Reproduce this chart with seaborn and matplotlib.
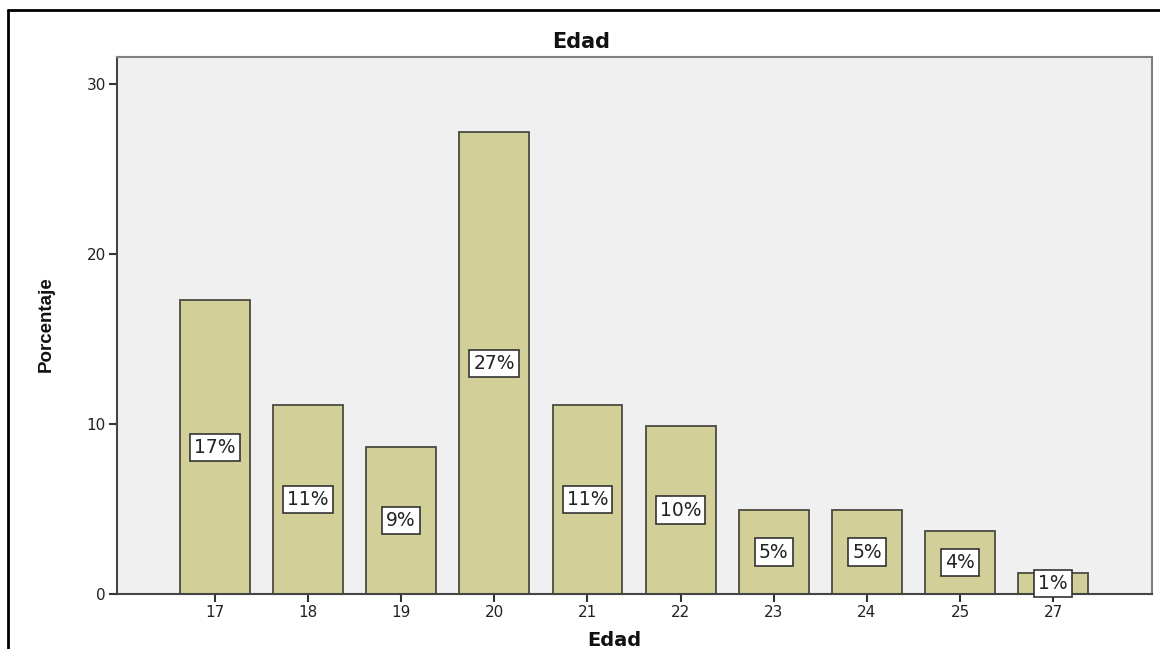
import matplotlib
matplotlib.use("Agg")
import matplotlib.pyplot as plt
import seaborn as sns
import pandas as pd
from matplotlib.lines import Line2D

# Data
edades = ["17", "18", "19", "20", "21", "22", "23", "24", "25", "27"]
porcentaje = [17.28, 11.11, 8.64, 27.16, 11.11, 9.88, 4.94, 4.94, 3.70, 1.23]
etiquetas = ["17%", "11%", "9%", "27%", "11%", "10%", "5%", "5%", "4%", "1%"]
yticks = [0, 10, 20, 30]

sns.set_theme(style="white")
plt.rcParams["font.family"] = ["DejaVu Sans"]

df = pd.DataFrame({"Edad": edades, "Porcentaje": porcentaje})

fig = plt.figure(figsize=(11.6, 6.49), dpi=100)
fig.patch.set_facecolor("white")
ax = fig.add_axes([117/1160, 55/649, 1035/1160, 537/649])
ax.set_facecolor("#F0F0F0")

sns.barplot(data=df, x="Edad", y="Porcentaje", order=edades, color="#D3CF98",
            saturation=1, edgecolor="#4a4a40", linewidth=1.3, width=0.75, ax=ax)

for i, (v, lab) in enumerate(zip(porcentaje, etiquetas)):
    ax.text(i, v / 2, lab, ha="center", va="center", fontsize=13.5, color="#222222",
            bbox=dict(boxstyle="square,pad=0.22", facecolor="white",
                      edgecolor="#333333", linewidth=1.2))

ax.set_xlim(-1.05, 10.06)
ax.set_ylim(0, 31.6)
ax.set_yticks(yticks)
ax.set_yticklabels([str(t) for t in yticks])
ax.tick_params(axis="both", which="both", direction="out", length=6, width=1.5,
               color="#333333", labelsize=11, labelcolor="#222222", pad=2,
               left=True, bottom=True)

for side in ["left", "bottom"]:
    ax.spines[side].set_color("#444444")
    ax.spines[side].set_linewidth(1.5)
for side in ["top", "right"]:
    ax.spines[side].set_color("#808080")
    ax.spines[side].set_linewidth(1.5)

ax.set_xlabel("")
ax.set_ylabel("")
fig.text(581/1160, 1 - 42/649, "Edad", ha="center", va="center", fontsize=15,
         fontweight="bold", color="#111111")
fig.text(614/1160, 1 - 641/649, "Edad", ha="center", va="center", fontsize=14,
         fontweight="bold", color="#111111")
fig.text(46/1160, 1 - 324/649, "Porcentaje", ha="center", va="center", rotation=90,
         fontsize=13.5, fontweight="bold",
         family=["Liberation Sans Narrow", "Liberation Sans", "DejaVu Sans"], color="#111111")

# outer frame (left and top edges)
fig.add_artist(Line2D([8/1160, 8/1160], [0, 1 - 10/649], transform=fig.transFigure,
                      color="black", linewidth=2))
fig.add_artist(Line2D([8/1160, 1], [1 - 10/649, 1 - 10/649], transform=fig.transFigure,
                      color="black", linewidth=2))

fig.savefig("out.png", dpi=100, facecolor="white")
